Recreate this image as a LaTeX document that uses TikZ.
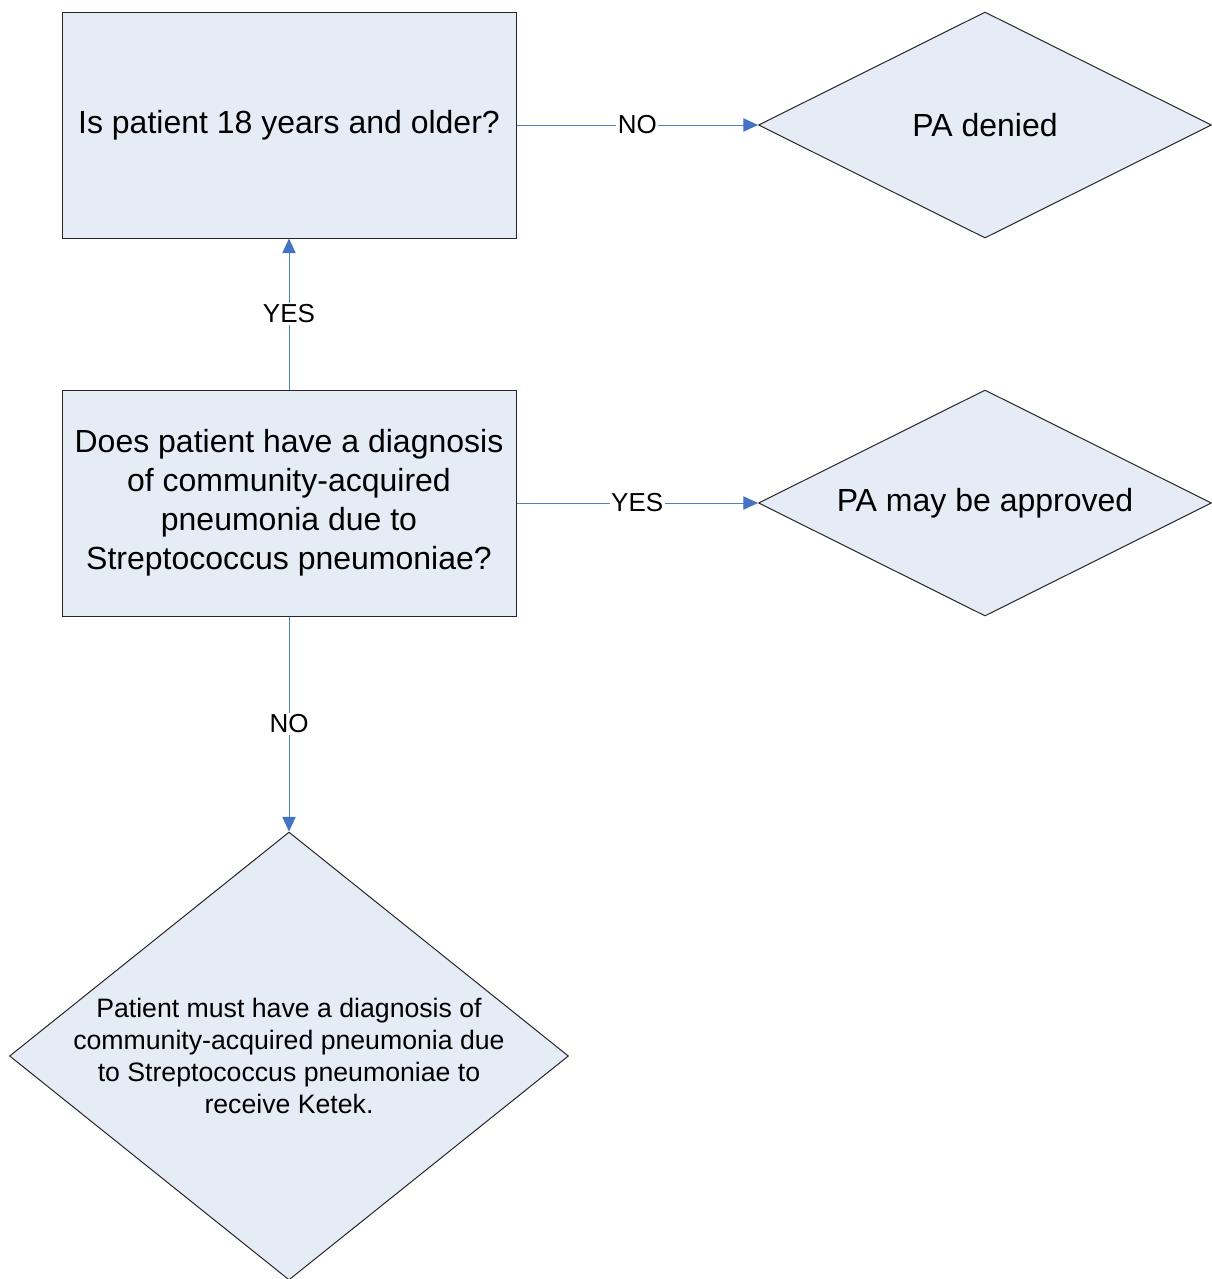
\documentclass[tikz,border=0pt]{standalone}
\usepackage{fontspec}
\setmainfont{Liberation Sans}
\usetikzlibrary{shapes.geometric,arrows.meta}
\definecolor{boxfill}{RGB}{230,236,246}
\definecolor{linkblue}{RGB}{79,129,189}
\definecolor{tipblue}{RGB}{68,114,196}

\begin{document}
\begin{tikzpicture}[x=0.75pt,y=-0.75pt,
  qbox/.style={draw=black!85, fill=boxfill, line width=0.75pt,
    minimum width=340.5pt, minimum height=169.5pt, inner sep=0pt,
    align=center, font=\fontsize{24}{29.25}\selectfont},
  outcome/.style={diamond, draw=black!85, fill=boxfill, line width=0.75pt,
    minimum width=339.75pt, minimum height=169.5pt, inner sep=0pt},
  bigtext/.style={align=center, inner sep=0pt, font=\fontsize{24}{29.25}\selectfont},
  smalltext/.style={align=center, inner sep=0pt, font=\fontsize{20}{24}\selectfont},
  link/.style={draw=linkblue, line width=0.75pt,
    -{Triangle[length=11pt,width=10pt,fill=tipblue,color=tipblue]}},
  linklabel/.style={fill=white, inner sep=1pt, font=\fontsize{19.5}{23}\selectfont}]

\useasboundingbox (0,0) rectangle (1212,1279);
\clip (0,0) rectangle (1212,1279);

% question boxes
\node[qbox] (age) at (289,125) {Is patient 18 years and older?};
\node[qbox] (diag) at (289,503) {Does patient have a diagnosis\\of community-acquired\\pneumonia due to\\Streptococcus pneumoniae?};

% outcome diamonds
\node[outcome] (denied) at (985,125) {};
\node[bigtext] (deniedtext) at (denied.center) {PA denied};
\node[outcome] (approved) at (985,503) {};
\node[bigtext] (approvedtext) at (approved.center) {PA may be approved};
\node[outcome, minimum width=419.25pt, minimum height=336pt] (must) at (289,1056) {};
\node[smalltext] (musttext) at (must.center) {Patient must have a diagnosis of\\community-acquired pneumonia due\\to Streptococcus pneumoniae to\\receive Ketek.};

% connectors
\draw[link] (age.east) -- node[linklabel] {NO} (denied.west);
\draw[link] (diag.north) -- node[linklabel] {YES} (age.south);
\draw[link] (diag.east) -- node[linklabel] {YES} (approved.west);
\draw[link] (diag.south) -- node[linklabel] {NO} (must.north);
\end{tikzpicture}
\end{document}
